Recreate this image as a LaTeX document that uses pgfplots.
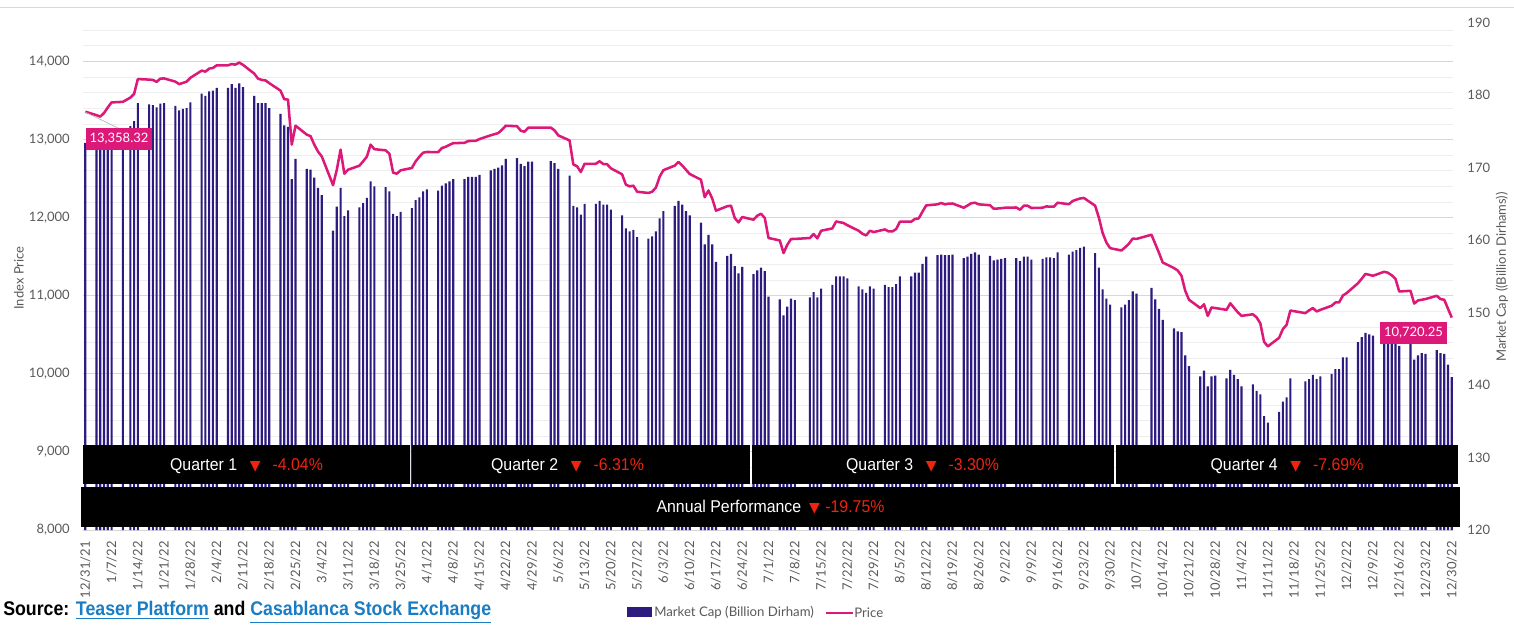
\documentclass[border=0pt]{standalone}
\usepackage{pgfplots}
\pgfplotsset{compat=1.18}
\usepackage{graphicx}
\usepackage{fontspec}
\setmainfont{Lato}
\newfontfamily\arialf{Liberation Sans}
\newfontfamily\dejavu{DejaVu Sans}
\definecolor{barc}{RGB}{46,27,128}
\definecolor{linec}{RGB}{220,25,120}
\definecolor{tickc}{RGB}{89,89,89}
\definecolor{gridmaj}{RGB}{215,215,215}
\definecolor{gridmin}{RGB}{238,238,238}
\definecolor{redc}{RGB}{240,35,15}
\definecolor{bluec}{RGB}{25,125,195}
\pgfplotsset{
 base/.style={at={(62.25pt,74.25pt)}, anchor=south west, width=1027.5pt, height=380.6pt, scale only axis,
   xmin=-0.61, xmax=364.33, axis line style={draw=none}, tick style={draw=none},
   /pgf/number format/assume math mode=true},
 tickf/.style={font=\fontsize{9.75}{11}\selectfont, text=tickc},
}
\begin{document}
\begin{tikzpicture}
\useasboundingbox (0,0) rectangle (1135.5pt,471.75pt);
% grid, left ticks, dates
\begin{axis}[base, ymin=8000, ymax=14500, scaled y ticks=false,
  ytick={8000,9000,...,14000}, minor ytick={8200,8400,...,14400},
  ymajorgrids, yminorgrids,
  major grid style={gridmaj, line width=0.75pt}, minor grid style={gridmin, line width=0.75pt},
  yticklabel style={tickf, /pgf/number format/fixed, /pgf/number format/1000 sep={,}}, yticklabel shift=6.5pt,
  xtick={0,7,...,364},
  xticklabels={12/31/21,1/7/22,1/14/22,1/21/22,1/28/22,2/4/22,2/11/22,2/18/22,2/25/22,3/4/22,3/11/22,3/18/22,3/25/22,4/1/22,4/8/22,4/15/22,4/22/22,4/29/22,5/6/22,5/13/22,5/20/22,5/27/22,6/3/22,6/10/22,6/17/22,6/24/22,7/1/22,7/8/22,7/15/22,7/22/22,7/29/22,8/5/22,8/12/22,8/19/22,8/26/22,9/2/22,9/9/22,9/16/22,9/23/22,9/30/22,10/7/22,10/14/22,10/21/22,10/28/22,11/4/22,11/11/22,11/18/22,11/25/22,12/2/22,12/9/22,12/16/22,12/23/22,12/30/22},
  xticklabel style={tickf, rotate=90, anchor=east}, xticklabel shift=5pt,
]
\end{axis}
% bars, right axis
\begin{axis}[base, ymin=120, ymax=190, axis x line=none, axis y line*=right,
  ytick={120,130,...,190}, yticklabel style={tickf}, yticklabel shift=7.3pt]
\addplot[ybar, bar width=1.6pt, fill=barc, draw=none] table[row sep=\\] {
d v\\
0 173.4\\ 3 174.3\\ 4 174.6\\ 5 174.8\\ 6 174.9\\ 7 175.0\\ 10 175.2\\ 12 175.7\\ 13 176.4\\ 14 178.9\\
17 178.7\\ 18 178.6\\ 19 178.3\\ 20 178.8\\ 21 178.9\\ 24 178.5\\ 25 177.9\\ 26 178.1\\ 27 178.2\\ 28 179.0\\
31 180.2\\ 32 179.9\\ 33 180.5\\ 34 180.6\\ 35 181.0\\ 38 181.0\\ 39 181.5\\ 40 181.0\\ 41 181.6\\ 42 181.1\\
45 179.9\\ 46 178.9\\ 47 178.9\\ 48 178.9\\ 49 178.2\\ 52 177.4\\ 53 175.8\\ 54 175.6\\ 55 168.4\\ 56 171.2\\
59 169.8\\ 60 169.7\\ 61 168.6\\ 62 167.2\\ 63 166.2\\ 66 161.3\\ 67 164.6\\ 68 167.2\\ 69 163.3\\ 70 164.1\\
73 164.5\\ 74 165.1\\ 75 165.8\\ 76 168.1\\ 77 167.4\\ 80 167.3\\ 81 166.7\\ 82 163.6\\ 83 163.3\\ 84 163.9\\
87 164.4\\ 88 165.5\\ 89 165.9\\ 90 166.7\\ 91 167.0\\ 94 166.8\\ 95 167.5\\ 96 167.8\\ 97 168.1\\ 98 168.4\\
101 168.4\\ 102 168.7\\ 103 168.7\\ 104 168.7\\ 105 169.0\\ 108 169.6\\ 109 169.8\\ 110 170.0\\ 111 170.3\\ 112 171.2\\
115 171.3\\ 116 170.5\\ 117 170.2\\ 118 170.8\\ 119 170.8\\ 124 170.9\\ 125 170.6\\ 126 169.8\\
129 168.9\\ 130 164.7\\ 131 164.5\\ 132 163.5\\ 133 165.0\\ 136 165.0\\ 137 165.4\\ 138 164.9\\ 139 164.9\\ 140 164.2\\
143 163.4\\ 144 161.6\\ 145 161.2\\ 146 161.4\\ 147 160.4\\ 150 160.2\\ 151 160.5\\ 152 161.2\\ 153 163.0\\ 154 164.0\\
157 164.7\\ 158 165.4\\ 159 164.9\\ 160 164.0\\ 161 163.4\\ 164 162.4\\ 165 159.4\\ 166 160.7\\ 167 159.4\\ 168 157.0\\
171 157.8\\ 172 158.1\\ 173 156.4\\ 174 155.4\\ 175 156.3\\ 178 155.3\\ 179 155.8\\ 180 156.2\\ 181 155.7\\ 182 152.2\\
185 151.8\\ 186 149.6\\ 187 150.8\\ 188 151.9\\ 189 151.7\\ 193 152.1\\ 194 152.8\\ 195 152.1\\ 196 153.3\\
199 153.8\\ 200 155.0\\ 201 155.0\\ 202 155.0\\ 203 154.7\\ 206 153.6\\ 207 153.2\\ 208 152.7\\ 209 153.6\\ 210 153.3\\
213 153.8\\ 214 153.5\\ 215 153.5\\ 216 153.9\\ 217 155.0\\ 220 155.0\\ 221 155.5\\ 222 155.5\\ 223 156.7\\ 224 157.7\\
227 157.9\\ 228 158.0\\ 229 157.9\\ 230 157.9\\ 231 158.0\\ 234 157.5\\ 235 157.7\\ 236 158.1\\ 237 158.3\\ 238 158.0\\
241 157.8\\ 242 157.2\\ 243 157.3\\ 244 157.4\\ 245 157.5\\ 248 157.5\\ 249 157.1\\ 250 157.7\\ 251 157.7\\ 252 157.3\\
255 157.4\\ 256 157.6\\ 257 157.6\\ 258 157.5\\ 259 158.3\\ 262 158.0\\ 263 158.4\\ 264 158.6\\ 265 158.9\\ 266 159.1\\
269 158.2\\ 270 156.2\\ 271 153.2\\ 272 151.9\\ 273 151.1\\ 276 150.7\\ 277 151.1\\ 278 151.7\\ 279 152.9\\ 280 152.6\\
284 153.4\\ 285 151.8\\ 286 150.5\\ 287 149.0\\ 290 147.8\\ 291 147.4\\ 292 147.3\\ 293 144.1\\ 294 142.6\\
297 141.2\\ 298 142.0\\ 299 139.8\\ 300 141.2\\ 301 141.3\\ 304 140.9\\ 305 142.1\\ 306 141.4\\ 307 140.8\\ 308 139.8\\
311 140.1\\ 312 139.2\\ 313 138.7\\ 314 135.7\\ 315 134.8\\ 318 136.3\\ 319 137.7\\ 320 138.3\\ 321 140.9\\
325 140.5\\ 326 140.8\\ 327 141.4\\ 328 140.8\\ 329 141.2\\ 332 141.5\\ 333 142.2\\ 334 142.2\\ 335 143.8\\ 336 143.8\\
339 145.9\\ 340 146.6\\ 341 147.2\\ 342 147.0\\ 343 146.8\\ 346 147.0\\ 347 147.3\\ 348 147.0\\ 349 146.0\\ 350 145.4\\
353 146.0\\ 354 143.5\\ 355 144.1\\ 356 144.4\\ 357 144.3\\ 360 144.8\\ 361 144.4\\ 362 144.3\\ 363 142.8\\ 364 141.1\\
};
\end{axis}
% price line
\begin{axis}[base, ymin=8000, ymax=14500, hide axis]
\addplot[linec, line width=1.9pt, line join=round, mark=none] table[row sep=\\] {
d p\\
0 13358.32\\ 3 13313\\ 4 13295\\ 5 13342\\ 6 13413\\ 7 13477\\ 10 13484\\ 12 13538\\ 13 13586\\ 14 13776\\
17 13769\\ 18 13765\\ 19 13740\\ 20 13782\\ 21 13784\\ 24 13743\\ 25 13711\\ 26 13727\\ 27 13743\\ 28 13792\\
31 13884\\ 32 13871\\ 33 13910\\ 34 13918\\ 35 13952\\ 38 13952\\ 39 13968\\ 40 13961\\ 41 13987\\ 42 13958\\
45 13846\\ 46 13782\\ 47 13765\\ 48 13759\\ 49 13724\\ 52 13628\\ 53 13518\\ 54 13513\\ 55 12936\\ 56 13179\\
59 13064\\ 60 13045\\ 61 12936\\ 62 12846\\ 63 12785\\ 66 12417\\ 67 12615\\ 68 12872\\ 69 12564\\ 70 12615\\
73 12666\\ 74 12721\\ 75 12782\\ 76 12936\\ 77 12878\\ 80 12863\\ 81 12820\\ 82 12577\\ 83 12564\\ 84 12607\\
87 12637\\ 88 12722\\ 89 12782\\ 90 12833\\ 91 12842\\ 94 12840\\ 95 12893\\ 96 12908\\ 97 12933\\ 98 12955\\
101 12959\\ 102 12982\\ 103 12984\\ 104 12985\\ 105 13007\\ 108 13056\\ 109 13070\\ 110 13084\\ 111 13127\\ 112 13178\\
115 13172\\ 116 13114\\ 117 13101\\ 118 13153\\ 119 13155\\ 124 13154\\ 125 13118\\ 126 13054\\
129 12990\\ 130 12682\\ 131 12659\\ 132 12585\\ 133 12691\\ 136 12691\\ 137 12723\\ 138 12687\\ 139 12685\\ 140 12633\\
143 12556\\ 144 12423\\ 145 12402\\ 146 12410\\ 147 12333\\ 150 12317\\ 151 12333\\ 152 12385\\ 153 12526\\ 154 12609\\
157 12667\\ 158 12714\\ 159 12669\\ 160 12615\\ 161 12560\\ 164 12487\\ 165 12263\\ 166 12349\\ 167 12246\\ 168 12090\\
171 12147\\ 172 12154\\ 173 11996\\ 174 11940\\ 175 12009\\ 178 11974\\ 179 12026\\ 180 12051\\ 181 11996\\ 182 11740\\
185 11709\\ 186 11547\\ 187 11654\\ 188 11727\\ 189 11728\\ 193 11740\\ 194 11791\\ 195 11735\\ 196 11833\\
199 11863\\ 200 11952\\ 201 11942\\ 202 11932\\ 203 11904\\ 206 11833\\ 207 11795\\ 208 11773\\ 209 11833\\ 210 11816\\
213 11850\\ 214 11824\\ 215 11824\\ 216 11855\\ 217 11949\\ 220 11949\\ 221 11984\\ 222 11991\\ 223 12077\\ 224 12158\\
227 12171\\ 228 12189\\ 229 12171\\ 230 12180\\ 231 12182\\ 234 12128\\ 235 12156\\ 236 12186\\ 237 12192\\ 238 12171\\
241 12160\\ 242 12115\\ 243 12118\\ 244 12122\\ 245 12128\\ 248 12131\\ 249 12102\\ 250 12154\\ 251 12154\\ 252 12124\\
255 12128\\ 256 12145\\ 257 12141\\ 258 12141\\ 259 12192\\ 262 12173\\ 263 12214\\ 264 12231\\ 265 12246\\ 266 12253\\
269 12154\\ 270 12000\\ 271 11804\\ 272 11682\\ 273 11610\\ 276 11580\\ 277 11621\\ 278 11667\\ 279 11733\\ 280 11728\\
284 11782\\ 285 11667\\ 286 11551\\ 287 11427\\ 290 11355\\ 291 11323\\ 292 11256\\ 293 11064\\ 294 10949\\
297 10843\\ 298 10891\\ 299 10743\\ 300 10850\\ 301 10843\\ 304 10820\\ 305 10904\\ 306 10846\\ 307 10788\\ 308 10743\\
311 10763\\ 312 10724\\ 313 10647\\ 314 10410\\ 315 10352\\ 318 10461\\ 319 10573\\ 320 10628\\ 321 10811\\
325 10778\\ 326 10814\\ 327 10843\\ 328 10799\\ 329 10820\\ 332 10872\\ 333 10914\\ 334 10916\\ 335 11004\\ 336 11035\\
339 11160\\ 340 11218\\ 341 11280\\ 342 11269\\ 343 11256\\ 346 11308\\ 347 11295\\ 348 11263\\ 349 11218\\ 350 11055\\
353 11064\\ 354 10900\\ 355 10940\\ 356 10949\\ 357 10958\\ 360 11000\\ 361 10958\\ 362 10949\\ 363 10833\\ 364 10720.25\\
};
\end{axis}
% annotations in pixel coordinates (y downward)
\begin{scope}[x=0.75pt, y=-0.75pt, shift={(0pt,471.75pt)}]
\draw[gridmaj, line width=0.75pt] (0,8)--(1514,8);
\draw[gray!60, line width=0.5pt] (85,112)--(118,128);
\node[fill=linec, text=white, inner sep=0pt, minimum width=49.5pt, minimum height=16.5pt, font=\fontsize{9.75}{11}\selectfont] at (119,139) {13,358.32};
\node[fill=linec, text=white, inner sep=0pt, minimum width=50pt, minimum height=16pt, font=\fontsize{9.75}{11}\selectfont] at (1413.5,333) {10,720.25};
% performance boxes
\fill[black] (83,445) rectangle (410,484);
\fill[black] (412,445) rectangle (750,484);
\fill[black] (752,445) rectangle (1114,484);
\fill[black] (1116,445) rectangle (1458,484);
\fill[black] (81,487) rectangle (1460,527);
\tikzset{qt/.style={inner sep=0pt, font=\arialf\fontsize{12.8}{14}\selectfont}}
\node[qt] at (246.5,466) {\scalebox{0.93}[1]{\textcolor{white}{Quarter 1}}\hspace{9.5pt}\textcolor{redc}{\dejavu\fontsize{10.5}{12}\selectfont ▼}\hspace{9pt}\scalebox{0.93}[1]{\textcolor{redc}{-4.04\%}}};
\node[qt] at (567.5,466) {\scalebox{0.93}[1]{\textcolor{white}{Quarter 2}}\hspace{9.5pt}\textcolor{redc}{\dejavu\fontsize{10.5}{12}\selectfont ▼}\hspace{9pt}\scalebox{0.93}[1]{\textcolor{redc}{-6.31\%}}};
\node[qt] at (922.5,466) {\scalebox{0.93}[1]{\textcolor{white}{Quarter 3}}\hspace{9.5pt}\textcolor{redc}{\dejavu\fontsize{10.5}{12}\selectfont ▼}\hspace{9pt}\scalebox{0.93}[1]{\textcolor{redc}{-3.30\%}}};
\node[qt] at (1287,466) {\scalebox{0.93}[1]{\textcolor{white}{Quarter 4}}\hspace{9.5pt}\textcolor{redc}{\dejavu\fontsize{10.5}{12}\selectfont ▼}\hspace{9pt}\scalebox{0.93}[1]{\textcolor{redc}{-7.69\%}}};
\node[qt] at (770.5,507) {\scalebox{0.93}[1]{\textcolor{white}{Annual Performance}}\hspace{6pt}\textcolor{redc}{\dejavu\fontsize{10.5}{12}\selectfont ▼}\hspace{4pt}\scalebox{0.93}[1]{\textcolor{redc}{-19.75\%}}};
% axis titles
\node[rotate=90, text=tickc, font=\fontsize{9.75}{11}\selectfont] at (19,278) {Index Price};
\node[rotate=90, text=tickc, font=\fontsize{9.75}{11}\selectfont] at (1502,277) {Market Cap ((Billion Dirhams))};
% legend
\fill[barc] (627,607) rectangle (652,617);
\node[anchor=west, inner sep=0pt, text=tickc, font=\fontsize{9.9}{11}\selectfont] at (654,613) {Market Cap (Billion Dirham)};
\draw[linec, line width=1.9pt] (826,613)--(853,613);
\node[anchor=west, inner sep=0pt, text=tickc, font=\fontsize{9.9}{11}\selectfont] at (854,613) {Price};
% source
\node[anchor=west, inner sep=0pt, font=\arialf\bfseries\fontsize{14.8}{17}\selectfont] at (3,612) {\scalebox{0.9}[1]{Source: \textcolor{bluec}{\underline{Teaser Platform}} and \textcolor{bluec}{\underline{Casablanca Stock Exchange}}}};
\end{scope}
\end{tikzpicture}
\end{document}
